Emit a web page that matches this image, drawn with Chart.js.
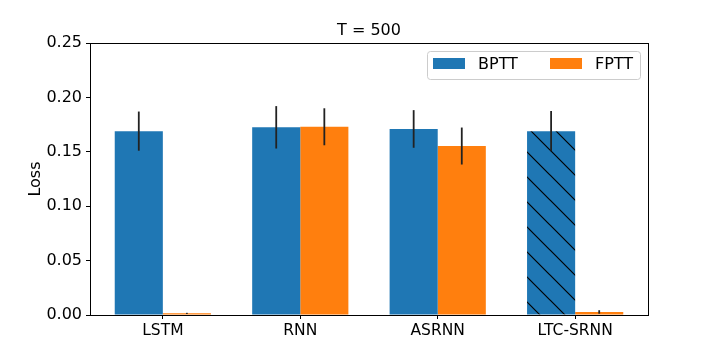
<!DOCTYPE html>
<html>
<head>
<meta charset="utf-8">
<script src="https://cdn.jsdelivr.net/npm/chart.js@4"></script>
<style>
  body { margin:0; background:#fff; }
</style>
</head>
<body>
<canvas id="lossChart" width="720" height="360"></canvas>
<script>
// values
const models = ['LSTM', 'RNN', 'ASRNN', 'LTC-SRNN'];
const bpttLoss = [0.169, 0.1725, 0.171, 0.169];
const bpttErr = [0.018, 0.0195, 0.0173, 0.0185];
const fpttLoss = [0.0015, 0.173, 0.1553, 0.0028];
const fpttErr = [0.0005, 0.017, 0.017, 0.0016];
const yTicks = [0, 0.05, 0.10, 0.15, 0.20, 0.25];
const titleText = 'T = 500';

const BLUE = '#1f77b4', ORANGE = '#ff7f0e';
const FONT = "'DejaVu Sans', sans-serif";

// hatch '\\' for the LTC-SRNN BPTT bar
function makeHatch(){
    const s = 25;
    const c = document.createElement('canvas');
    c.width = s; c.height = s;
    const g = c.getContext('2d');
    g.fillStyle = BLUE;
    g.fillRect(0,0,s,s);
    g.strokeStyle = '#000';
    g.lineWidth = 1.2;
    g.beginPath();
    g.moveTo(-2,-2); g.lineTo(s+2,s+2);
    g.moveTo(-2,s-2); g.lineTo(2,s+2);
    g.moveTo(s-2,-2); g.lineTo(s+2,2);
    g.stroke();
    return g.createPattern(c, 'repeat');
}
const hatch = makeHatch();

Chart.defaults.font.family = FONT;
Chart.defaults.font.size = 16;
Chart.defaults.color = '#000';

const errorBars = {
    id:'errorBars',
    afterDatasetsDraw(chart){
        const ctx = chart.ctx;
        const y = chart.scales.y;
        const errs = [bpttErr, fpttErr];
        ctx.save();
        ctx.strokeStyle = '#222';
        ctx.lineWidth = 1.8;
        chart.data.datasets.forEach((ds, di) => {
            const meta = chart.getDatasetMeta(di);
            meta.data.forEach((bar, i) => {
                const v = ds.data[i].y, e = errs[di][i];
                ctx.beginPath();
                ctx.moveTo(bar.x, y.getPixelForValue(v + e));
                ctx.lineTo(bar.x, y.getPixelForValue(Math.max(v - e, 0)));
                ctx.stroke();
            });
        });
        ctx.restore();
    }
};

const frameAndLegend = {
    id:'frameAndLegend',
    afterDraw(chart){
        const ctx = chart.ctx;
        const a = chart.chartArea;
        ctx.save();
        ctx.strokeStyle = '#000';
        ctx.lineWidth = 1;
        ctx.strokeRect(Math.round(a.left)+0.5, Math.round(a.top)+0.5, Math.round(a.right-a.left), Math.round(a.bottom-a.top));

        // title centred over the axes
        ctx.fillStyle = '#000';
        ctx.font = '16px ' + FONT;
        ctx.textAlign = 'center';
        ctx.textBaseline = 'middle';
        ctx.fillText(titleText, (a.left + a.right) / 2, a.top - 12);

        // legend box, upper right, two columns
        const bx = a.right - 221, by = a.top + 8, bw = 213, bh = 28;
        ctx.fillStyle = 'rgba(255,255,255,0.8)';
        ctx.strokeStyle = '#cccccc';
        ctx.beginPath();
        ctx.roundRect(bx+0.5, by+0.5, bw, bh, 3);
        ctx.fill();
        ctx.stroke();
        const cols = [bx + 6, bx + 123];
        ctx.textAlign = 'left';
        chart.data.datasets.forEach((ds, i) => {
            ctx.fillStyle = i === 0 ? BLUE : ORANGE;
            ctx.fillRect(cols[i], by + 7, 32, 11);
            ctx.fillStyle = '#000';
            ctx.fillText(ds.label, cols[i] + 45, by + 14);
        });
        ctx.restore();
    }
};

new Chart(document.getElementById('lossChart'), {
    type:'bar',
    data:{
        datasets:[
            {
                label:'BPTT',
                data: bpttLoss.map((v,i)=>({x:i, y:v})),
                backgroundColor: c => (c.type === 'data' && c.dataIndex === 3) ? hatch : BLUE
            },
            {
                label:'FPTT',
                data: fpttLoss.map((v,i)=>({x:i, y:v})),
                backgroundColor: ORANGE
            }
        ]
    },
    options:{
        responsive:false,
        animation:false,
        categoryPercentage:0.7,
        barPercentage:1.0,
        layout:{padding:{left:0, right:72, top:43, bottom:0}},
        plugins:{
            legend:{display:false},
            tooltip:{enabled:false}
        },
        scales:{
            x:{
                type:'linear',
                min:-0.53, max:3.53,
                offset:false,
                grid:{offset:false, drawOnChartArea:false, tickLength:4, color:'#000'},
                border:{display:true, color:'#000'},
                ticks:{padding:3, font:{size:15.5}, callback: v => models[v]},
                afterBuildTicks: axis => { axis.ticks = models.map((m,i)=>({value:i})); },
                afterFit: axis => { axis.height = 45; }
            },
            y:{
                min:0, max:0.25,
                grid:{drawOnChartArea:false, tickLength:4, color:'#000'},
                border:{display:true, color:'#000'},
                ticks:{padding:4, callback: v => v.toFixed(2)},
                afterBuildTicks: axis => { axis.ticks = yTicks.map(v=>({value:v})); },
                title:{display:true, text:'Loss', padding:{top:26, bottom:0}},
                afterFit: axis => { axis.width = 90; }
            }
        }
    },
    plugins:[errorBars, frameAndLegend]
});
</script>
</body>
</html>
